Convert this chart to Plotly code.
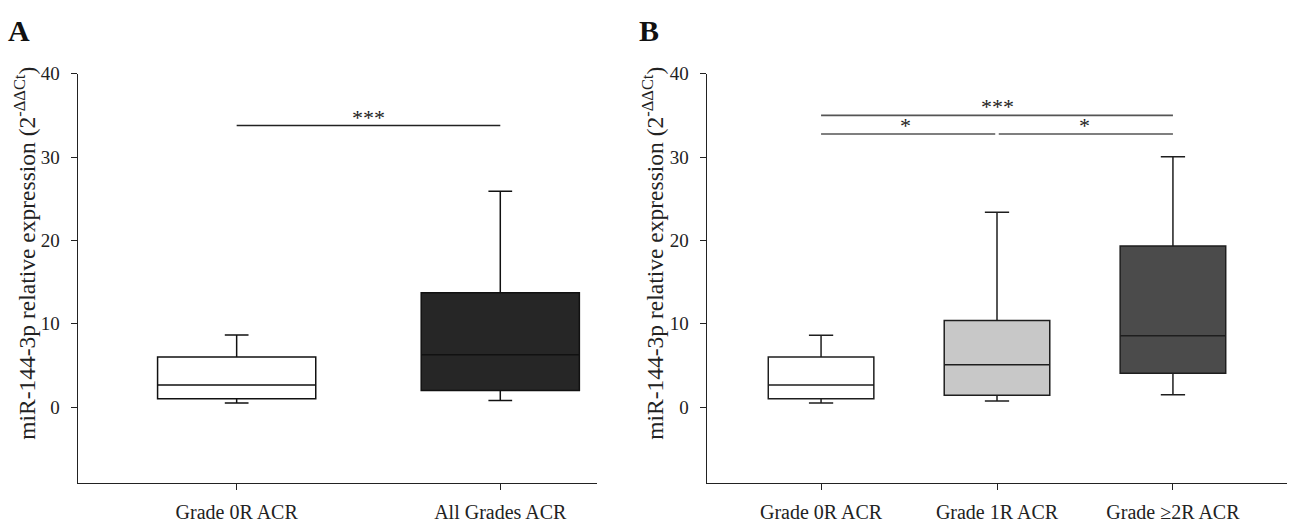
import plotly.graph_objects as go

# ---- data ----
cats_a = ["Grade 0R ACR", "All Grades ACR"]
a_low = [0.51, 0.82]
a_q1 = [1.02, 2.0]
a_med = [2.66, 6.30]
a_q3 = [6.03, 13.74]
a_up = [8.65, 25.9]
a_colors = ["#ffffff", "#262626"]

cats_b = ["Grade 0R ACR", "Grade 1R ACR", "Grade \u22652R ACR"]
b_low = [0.51, 0.74, 1.49]
b_q1 = [1.02, 1.45, 4.07]
b_med = [2.66, 5.08, 8.56]
b_q3 = [6.02, 10.4, 19.32]
b_up = [8.64, 23.38, 30.03]
b_colors = ["#ffffff", "#c8c8c8", "#4b4b4b"]

y_ticks = [0, 10, 20, 30, 40]

# significance brackets: (x0, x1, y, label, label_x)
sig_a = [(0, 1, 33.78, "***", 0.5)]
sig_b = [(0, 2, 35.0, "***", 1.0), (0, 0.99, 32.76, "*", 0.48), (1.01, 2, 32.76, "*", 1.5)]

W, H = 1289, 523
FONT = "Liberation Serif, Times New Roman, serif"
fig = go.Figure()

for i in range(len(cats_a)):
    fig.add_trace(go.Box(
        x=[i], q1=[a_q1[i]], median=[a_med[i]], q3=[a_q3[i]],
        lowerfence=[a_low[i]], upperfence=[a_up[i]],
        width=0.6, whiskerwidth=0.15, fillcolor=a_colors[i],
        line=dict(color="#111111", width=1.5), boxpoints=False,
        xaxis="x", yaxis="y", showlegend=False, hoverinfo="skip"))

for i in range(len(cats_b)):
    fig.add_trace(go.Box(
        x=[i], q1=[b_q1[i]], median=[b_med[i]], q3=[b_q3[i]],
        lowerfence=[b_low[i]], upperfence=[b_up[i]],
        width=0.6, whiskerwidth=0.23, fillcolor=b_colors[i],
        line=dict(color="#1e1e1e", width=1.5), boxpoints=False,
        xaxis="x2", yaxis="y2", showlegend=False, hoverinfo="skip"))

shapes = []
annotations = []
for (x0, x1, y, lab, lx) in sig_a:
    shapes.append(dict(type="line", xref="x", yref="y", x0=x0, x1=x1, y0=y, y1=y,
                       line=dict(color="#222222", width=1.3)))
    annotations.append(dict(xref="x", yref="y", x=lx, y=y, text=lab, showarrow=False,
                            yanchor="bottom", yshift=-6, font=dict(family=FONT, size=22, color="#222")))
for (x0, x1, y, lab, lx) in sig_b:
    shapes.append(dict(type="line", xref="x2", yref="y2", x0=x0, x1=x1, y0=y, y1=y,
                       line=dict(color="#555555", width=1.6)))
    annotations.append(dict(xref="x2", yref="y2", x=lx, y=y, text=lab, showarrow=False,
                            yanchor="bottom", yshift=-6, font=dict(family=FONT, size=22, color="#222")))

ytitle = "miR-144-3p relative expression (2<sup>-\u0394\u0394Ct</sup>)"
for px in (25, 653):
    annotations.append(dict(xref="paper", yref="paper", x=px / W, y=1 - 249 / H, text=ytitle,
                            textangle=-90, showarrow=False, xanchor="center", yanchor="middle",
                            font=dict(family=FONT, size=23.5, color="#222")))
for lab, px in (("A", 19), ("B", 649)):
    annotations.append(dict(xref="paper", yref="paper", x=px / W, y=1 - 21 / H, text="<b>%s</b>" % lab,
                            showarrow=False, xanchor="center", yanchor="middle",
                            font=dict(family=FONT, size=30, color="#111")))

ydom = [1 - 483.3 / H, 1 - 65 / H]
axis_common = dict(showgrid=False, zeroline=False, showline=True, linecolor="#222", linewidth=1.3,
                   ticks="outside", tickcolor="#222", tickwidth=1.3, ticklen=6)
xfont = dict(family=FONT, size=20, color="#222")
yfont = dict(family=FONT, size=19, color="#222")

fig.update_layout(
    width=W, height=H, margin=dict(l=0, r=0, t=0, b=0),
    paper_bgcolor="white", plot_bgcolor="white",
    shapes=shapes, annotations=annotations,
    xaxis=dict(domain=[77.7 / W, 597.3 / W], range=[-0.603, 1.368], tickvals=list(range(len(cats_a))),
               ticktext=cats_a, tickfont=xfont, ticklabelstandoff=5, **axis_common),
    yaxis=dict(domain=ydom, range=[-9.1, 40], tickvals=y_ticks, anchor="x", tickfont=yfont,
               ticklabelstandoff=7, **axis_common),
    xaxis2=dict(domain=[706.7 / W, 1287.3 / W], range=[-0.65, 2.65], tickvals=list(range(len(cats_b))),
                ticktext=cats_b, anchor="y2", tickfont=xfont, ticklabelstandoff=5, **axis_common),
    yaxis2=dict(domain=ydom, range=[-9.1, 40], tickvals=y_ticks, anchor="x2", tickfont=yfont,
                ticklabelstandoff=7, **axis_common),
)

fig.write_html("out.html")
